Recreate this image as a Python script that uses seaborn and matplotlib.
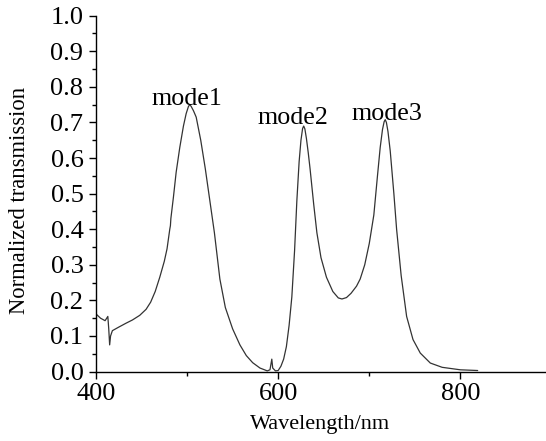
import matplotlib
matplotlib.use("Agg")
import matplotlib.pyplot as plt
import seaborn as sns
import pandas as pd
from matplotlib.ticker import MultipleLocator, FormatStrFormatter

wavelength = [400, 405, 410, 413, 414, 415, 416, 418, 425, 433, 440, 448, 455, 460, 465, 470,
              475, 478, 481, 481.7, 482.2, 485, 488, 492, 496, 499, 501.5, 503, 504.5, 507,
              510, 515, 520, 525, 530, 536, 542, 550, 558, 565, 572, 580, 588, 591, 593, 594,
              597, 600, 603, 606, 609, 612, 615, 618, 620.5, 623, 625, 626.8, 628, 629.3,
              631, 633, 635, 639, 642.5, 647, 653, 660, 666, 670, 675, 680, 686, 690, 695,
              700, 705, 709, 712, 714.5, 716.3, 717.5, 718.8, 720.5, 723, 727, 730, 735, 741,
              748, 756, 767, 780, 800, 819]
transmission = [0.162, 0.150, 0.143, 0.155, 0.120, 0.075, 0.100, 0.115, 0.125, 0.136, 0.145,
                0.158, 0.175, 0.195, 0.225, 0.265, 0.310, 0.345, 0.400, 0.410, 0.430, 0.490,
                0.560, 0.630, 0.690, 0.725, 0.745, 0.750, 0.745, 0.733, 0.715, 0.650, 0.570,
                0.480, 0.390, 0.260, 0.180, 0.120, 0.075, 0.045, 0.025, 0.010, 0.002, 0.005,
                0.035, 0.010, 0.002, 0.003, 0.015, 0.035, 0.070, 0.130, 0.210, 0.340, 0.480,
                0.590, 0.650, 0.683, 0.690, 0.682, 0.655, 0.615, 0.570, 0.470, 0.390, 0.320,
                0.265, 0.225, 0.207, 0.204, 0.208, 0.220, 0.240, 0.260, 0.300, 0.360, 0.440,
                0.550, 0.630, 0.680, 0.702, 0.708, 0.700, 0.675, 0.620, 0.500, 0.400, 0.270,
                0.155, 0.090, 0.052, 0.024, 0.012, 0.005, 0.003]
mode_labels = ["mode1", "mode2", "mode3"]
mode_x = [499.5, 616.5, 719.5]
mode_y = [0.748, 0.695, 0.708]

sns.set_theme(style="ticks")
plt.rcParams["font.family"] = ["Liberation Serif", "DejaVu Serif"]

fig = plt.figure(figsize=(5.46, 4.41), dpi=100)
ax = fig.add_axes([0.1758, 0.1574, 1 - 0.1758, 0.9644 - 0.1574])

df = pd.DataFrame({"Wavelength": wavelength, "T": transmission})
sns.lineplot(data=df, x="Wavelength", y="T", ax=ax, color="#333333", linewidth=0.9,
             estimator=None, sort=False)

ax.set_xlim(400, 894)
ax.set_ylim(0, 1.0)
ax.xaxis.set_major_locator(MultipleLocator(200))
ax.xaxis.set_minor_locator(MultipleLocator(100))
ax.yaxis.set_major_locator(MultipleLocator(0.1))
ax.yaxis.set_minor_locator(MultipleLocator(0.05))
ax.yaxis.set_major_formatter(FormatStrFormatter("%.1f"))

for s in ["top", "right"]:
    ax.spines[s].set_visible(False)
for s in ["left", "bottom"]:
    ax.spines[s].set_linewidth(1.0)
    ax.spines[s].set_color("black")

ax.tick_params(axis="both", which="major", direction="out", length=5, width=1.0,
               labelsize=19, pad=3, colors="black")
ax.tick_params(axis="both", which="minor", direction="out", length=3, width=1.0, colors="black")
ax.tick_params(axis="y", which="major", pad=4)

ax.set_xlabel("Wavelength/nm", fontsize=16, color="black", va="center")
ax.set_ylabel("Normalized transmission", fontsize=16.3, color="black", va="center")
ax.xaxis.set_label_coords(0.498, -0.148)
ax.yaxis.set_label_coords(-0.169, 0.482)

for lab, xv, yv in zip(mode_labels, mode_x, mode_y):
    ax.text(xv, yv, lab, fontsize=18.7, ha="center", va="baseline", color="black")

ax.grid(False)
fig.savefig("out.png", dpi=100)
